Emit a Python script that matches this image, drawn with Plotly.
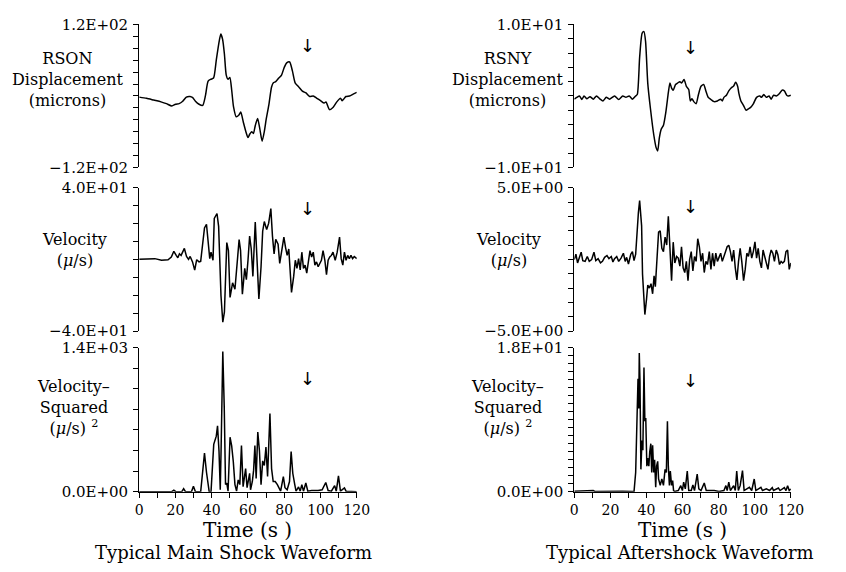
import plotly.graph_objects as go

# ---------------- data ----------------
# Main shock, displacement (microns)
ms_disp_t = [0, 4, 8, 12, 15, 18, 20, 22, 24, 26, 28, 29.5, 31, 33, 35, 36.5, 38, 39.5, 41, 42.5,
             44, 45, 46, 47, 48, 49, 50, 51, 52, 53.5, 55, 56, 57.5, 59, 60, 61, 62, 63, 64, 65.3,
             66.5, 67.8, 69, 70, 71.5, 73, 74, 75.3, 77, 78.5, 80, 81.5, 83, 84.5, 86, 88, 90, 92,
             94, 96, 98, 100, 102, 103, 105, 107, 109, 111, 112, 114, 116, 118, 120]
ms_disp_v = [-2, -4, -7, -10, -13, -17, -14, -13, -9, -2, -1, -3, -9, -14, -16, 0, 25, 28, 30, 60,
             90, 104, 95, 70, 35, 28, 31, 10, -18, -35, -32, -27, -45, -62, -70, -64, -60, -63, -50, -38,
             -55, -76, -60, -40, -15, 15, 22, 24, 30, 35, 48, 56, 57, 42, 22, 15, 8, 5,
             -1, 0, -4, -8, -12, -10, -23, -19, -10, -4, -8, -1, 0, 3, 6]

# Main shock, velocity (micron/s)
ms_vel_t = [0, 5.0, 8.6, 12.3, 15.9, 17.7, 19.1, 20.4, 21.3, 22.2, 23.1, 24.9, 26.1, 27.2, 28.1, 29.4,
            30.6, 31.7, 33.0, 33.9, 34.8, 36.0, 37.1, 37.8, 38.9, 39.6, 40.7, 41.4, 42.9, 43.8, 45.1,
            46.1, 47.0, 48.3, 49.2, 50.1, 51.5, 52.8, 54.1, 55.1, 55.9, 56.9, 58.2, 59.1, 60.0, 60.9,
            61.8, 62.7, 64.0, 64.9, 66.0, 67.2, 68.1, 69.0, 70.3, 71.4, 72.6, 73.5, 74.4, 75.3, 76.6,
            77.5, 78.6, 79.8, 80.7, 81.6, 82.5, 84.0, 85.2, 86.1, 87.0, 87.9, 88.8, 89.7, 90.6, 91.5,
            92.4, 93.3, 94.2, 95.1, 96.0, 96.9, 97.8, 98.7, 99.6, 100.5, 101.4, 102.4, 103.3, 104.2,
            105.1, 106.0, 106.9, 108.1, 109.2, 110.5, 111.4, 112.3, 113.2, 114.1, 115.0, 115.9, 116.8,
            117.7, 118.6, 120]
ms_vel_v = [0, 0, 0.4, -0.5, -0.2, 1.3, 4.5, 2.2, 0.9, 3.1, 2.2, 6.1, 1.6, 0, 1.6, -1.4,
            -6.0, -0.2, -1.4, -1.1, 6.7, 17.5, 19.6, 11.2, 0.4, 4.0, -0.5, 22.9, 25.6, 18.4, -20.3,
            -35.1, -29.3, 9.4, 4.9, -21.2, -13.1, -16.7, 0.4, 11.0, 4.9, -19.4, -5.0, -11.3, -0.5, 13.0,
            5.8, -9.5, 20.9, -0.5, -22.1, -4.1, 15.7, 21.1, 16.6, 20.2, 28.3, 13.0, 3.1, 11.2, 8.5,
            -2.3, 4.0, 12.4, 6.7, 2.2, 5.8, -18.5, -9.5, -0.5, -5.0, 0.4, -5.9, 4.0, -5.0, -3.2,
            -7.7, -0.5, 4.9, 1.3, 4.0, -3.2, -1.4, -4.1, -2.3, -0.5, 4.9, -0.5, -8.6, -0.5,
            1.3, 2.2, 4.0, -0.5, 4.0, 12.4, 0.4, -3.2, 4.0, -0.5, 2.2, 0.4, 2.2,
            0.4, 1.6, 0.4]

# Main shock, velocity squared
ms_sq_t = [0, 8.6, 17.7, 19.1, 20.4, 23.4, 24.5, 25.6, 28.8, 29.9, 31.0, 33.9, 35.0, 36.0, 37.1,
           38.6, 39.6, 41.1, 42.5, 43.2, 44.0, 44.7, 45.2, 46.1, 46.9, 47.6, 48.3, 49.0, 50.1, 51.0,
           51.9, 52.8, 53.7, 54.6, 55.5, 56.4, 57.3, 58.2, 58.7, 59.5, 60.0, 60.9, 61.4, 62.4, 63.1,
           63.8, 64.5, 65.4, 66.3, 67.2, 68.1, 69.0, 69.9, 70.8, 72.1, 73.0, 73.9, 75.0, 76.2, 78.0,
           79.5, 80.4, 81.6, 82.9, 83.8, 84.7, 85.8, 86.5, 87.9, 88.8, 89.7, 90.6, 91.9, 93.0, 95.1,
           98.7, 100.9, 102.9, 104.2, 106.0, 107.8, 108.7, 109.9, 111.0, 113.2, 114.1, 120]
ms_sq_v = [0, 0, 0, 15, 0, 0, 30, 0, 0, 53, 0, 0, 190, 375, 190,
           0, 0, 460, 540, 640, 400, 20, 445, 1360, 820, 70, 85, 6, 530, 445,
           290, 70, 6, 115, 70, 450, 50, 145, 225, 40, 100, 180, 20, 100, 210,
           450, 130, 580, 400, 70, 300, 255, 435, 150, 760, 225, 100, 100, 70, 6,
           147, 40, 20, 100, 390, 180, 70, 6, 47, 6, 70, 6, 85, 6, 12,
           12, 20, 90, 12, 6, 60, 6, 155, 6, 37, 6, 0]

# Aftershock, displacement (microns)
as_disp_t = [0, 1.4, 2.9, 4.2, 5.4, 6.9, 8.7, 10.5, 12.3, 14.1, 15.9, 17.7, 19.5, 22.3, 24.6, 26.8,
             28.6, 30.4, 32.2, 34.0, 34.9, 36.2, 37.6, 38.6, 39.5, 40.7, 42.2, 44.0, 45.3, 46.2, 47.1,
             48.1, 49.4, 50.7, 52.1, 53.0, 53.9, 54.8, 56.1, 57.2, 58.5, 59.4, 60.8, 62.1, 63.4, 64.3,
             65.2, 66.2, 67.5, 68.8, 70.2, 71.7, 72.9, 74.2, 75.7, 77.5, 79.3, 81.1, 82.0, 82.9, 84.3,
             85.6, 86.9, 88.3, 89.4, 90.5, 91.2, 92.3, 93.8, 95.2, 96.5, 97.7, 99.2, 101.0, 102.8,
             103.7, 105.0, 106.4, 107.9, 109.1, 110.4, 111.9, 113.7, 115.1, 116.4, 117.7, 118.7, 120]
as_disp_v = [-0.45, -0.2, 0, -0.5, 0, -0.4, -0.1, -0.45, 0, -0.4, -0.7, -0.2, -0.45, 0, -0.5, 0,
             -0.2, 0, -0.45, 0, 0.2, 5.4, 8.8, 9.0, 7.6, 1.8, -1.8, -5.4, -7.2, -7.7, -5.9,
             -4.7, -4.1, -2.3, 0.45, 1.8, 1.1, 0.8, 1.6, 1.8, 2.0, 1.8, 2.3, 1.35, 0.9, -0.7,
             -0.4, -0.8, -1.1, 0.2, 1.35, 1.6, 0.7, -0.2, -0.5, -0.8, -0.7, -0.45, -0.7, -0.2, 0.1,
             0.7, 1.1, 1.4, 1.9, 1.35, 0.35, -0.7, -1.35, -2.0, -1.8, -1.6, -1.1, -0.2, 0,
             -0.2, 0.2, -0.2, 0, -0.45, 0.1, 0, 0.35, 0.8, 0.7, 0.1, 0, 0.1]

# Aftershock, velocity (micron/s)
as_vel_t = [0, 0.9, 1.8, 2.9, 3.8, 4.7, 6.0, 7.2, 8.3, 9.6, 10.9, 11.9, 13.2, 14.5, 15.6, 16.8,
            18.1, 19.2, 20.5, 21.4, 22.3, 23.5, 24.6, 25.9, 27.2, 28.2, 29.0, 30.0, 31.3, 32.2, 33.1,
            34.0, 34.8, 35.5, 36.2, 36.7, 37.3, 37.8, 38.4, 39.1, 40.0, 40.7, 41.6, 42.5, 43.4, 44.2,
            44.9, 45.8, 46.7, 47.6, 48.5, 49.4, 50.3, 51.2, 52.1, 53.0, 53.9, 54.8, 55.7, 56.7, 57.6,
            58.5, 59.4, 60.3, 61.2, 62.1, 63.0, 63.9, 64.8, 65.7, 66.6, 67.5, 68.4, 69.3, 70.2, 71.1,
            72.0, 72.9, 73.8, 74.8, 75.7, 76.6, 77.5, 78.4, 79.3, 80.2, 81.1, 82.0, 82.9, 83.8, 84.7,
            85.6, 86.5, 87.4, 88.3, 89.2, 90.1, 91.0, 91.9, 92.8, 93.8, 94.7, 95.6, 96.5, 97.4, 98.3,
            99.2, 100.1, 101.0, 101.9, 102.8, 103.7, 104.6, 105.5, 106.4, 107.3, 108.2, 109.1, 110.0,
            110.9, 111.9, 112.8, 113.7, 114.6, 115.5, 116.4, 117.3, 118.2, 119.1, 120]
as_vel_v = [-0.02, 0.36, -0.25, 0.2, 0.5, -0.09, -0.14, 0.2, -0.14, -0.02, 0.5, -0.09, 0.05, -0.25, -0.14, 0.14,
            0.27, 0.05, 0.2, -0.18, 0.05, 0.2, -0.14, 0.09, 0.43, -0.14, 0.14, -0.32, 0.36, 0.54, -0.09,
            0.36, 2.34, 3.24, 4.1, 3.0, 2.34, -1.03, -2.16, -3.85, -2.8, -1.8, -2.0, -1.7, -2.4, -1.15,
            -1.9, 0.09, 1.9, 2.0, 0.77, 0.54, 1.55, 1.0, 3.0, 0.77, -1.49, 1.2, -0.25, 0.2, 0.09,
            -0.47, 0.88, -0.59, -0.92, -0.14, -1.49, -0.02, 0.54, -0.81, 0.2, -0.14, 1.44, 0.88, -0.14, 0.43,
            -0.92, -0.14, -0.36, 0.54, -0.7, 0.43, -0.47, 0.43, -0.14, 0.14, 0.43, -0.14, 0.2, 0.43, 0.88,
            0.99, 0.54, -0.14, 0.65, -0.59, -1.44, -0.14, 0.77, -0.14, -1.49, -0.7, 0.43, 0.2, 0.88, 0.09,
            0.54, 1.22, 0.09, 0.77, -0.14, -0.59, 0.65, 0.2, -0.36, -0.7, 0.2, 0.65, 0.43,
            -0.14, 0.65, 0.32, -0.36, -0.14, -0.25, -0.14, 0.54, 0.65, -0.7, -0.25]

# Aftershock, velocity squared
as_sq_t = [0, 3.3, 6.9, 10.5, 11.4, 15.9, 21.4, 26.8, 32.2, 33.1, 34.0, 34.8, 35.3, 35.7, 36.0,
           36.4, 36.9, 37.5, 38.0, 38.6, 39.1, 39.6, 40.2, 40.7, 41.3, 41.8, 42.4, 42.9, 43.4, 44.0,
           44.5, 45.1, 45.6, 46.2, 46.7, 47.6, 48.5, 49.4, 50.3, 51.0, 51.6, 52.1, 52.7, 53.2, 53.9,
           54.5, 55.0, 55.7, 57.6, 59.0, 59.9, 60.6, 61.5, 62.6, 63.4, 64.8, 65.7, 66.6, 68.1, 69.0,
           70.2, 72.0, 73.1, 77.5, 80.2, 82.9, 84.0, 84.7, 85.6, 86.5, 88.3, 89.2, 90.0, 90.9, 91.9,
           93.2, 94.1, 97.0, 98.3, 99.7, 100.6, 103.4, 104.3, 106.4, 108.2, 109.7, 110.4, 113.1, 114.0,
           116.4, 117.3, 118.2, 119.1, 120]
as_sq_v = [0.08, 0.1, 0.05, 0.16, 0.05, 0.08, 0.05, 0.08, 0.05, 0.04, 2.4, 8.0, 14.1, 10.4, 17.3,
           13.7, 2.8, 6.4, 5.2, 15.5, 8.8, 9.2, 3.2, 4.2, 3.2, 5.0, 6.0, 2.4, 5.8, 2.4,
           4.0, 0.56, 3.2, 3.8, 1.6, 0.8, 1.6, 0.8, 2.8, 2.4, 8.8, 3.2, 0.8, 2.6, 0.8,
           1.4, 0.16, 0.04, 0.16, 0.77, 0.16, 1.2, 0.36, 2.6, 0.16, 0.16, 0.85, 0.16, 2.2, 0.36,
           0.16, 1.1, 0.16, 0.16, 0.04, 0.16, 0.77, 0.16, 1.2, 0.16, 0.77, 0.16, 2.6, 0.16, 0.77,
           2.65, 0.16, 0.56, 0.16, 1.6, 0.16, 0.56, 0.16, 0.36, 0.16, 0.52, 0.16, 0.48, 0.16,
           0.52, 0.16, 0.77, 0.16, 0.36]

time_label_ticks = [0, 20, 40, 60, 80, 100, 120]
time_minor_step = 10

# ---------------- layout ----------------
W, H = 846, 572
SERIF = "DejaVu Serif"

def px(x):
    return x / W

def py(y):
    return 1 - y / H

col_dom = [[px(138), px(360)], [px(582), px(803)]]
row_dom = [[py(163.5), py(16)], [py(332.5), py(184.5)], [py(498.5), py(349.5)]]

panels = [
    dict(t=ms_disp_t, v=ms_disp_v, col=0, row=0, lo=-120, hi=120, dt=20,
         lab=("\u22121.2E+02", "1.2E+02"), arrow=(93, 84), smooth=True),
    dict(t=ms_vel_t, v=ms_vel_v, col=0, row=1, lo=-40, hi=40, dt=10,
         lab=("\u22124.0E+01", "4.0E+01"), arrow=(93, 28.6), smooth=False),
    dict(t=ms_sq_t, v=ms_sq_v, col=0, row=2, lo=0, hi=1400, dt=200,
         lab=("0.0E+00", "1.4E+03"), arrow=(93, 1100), smooth=False),
    dict(t=as_disp_t, v=as_disp_v, col=1, row=0, lo=-10, hi=10, dt=2,
         lab=("\u22121.0E+01", "1.0E+01"), arrow=(64.6, 6.8), smooth=True),
    dict(t=as_vel_t, v=as_vel_v, col=1, row=1, lo=-5, hi=5, dt=1,
         lab=("\u22125.0E+00", "5.0E+00"), arrow=(64.6, 3.7), smooth=False),
    dict(t=as_sq_t, v=as_sq_v, col=1, row=2, lo=0, hi=18, dt=1,
         lab=("0.0E+00", "1.8E+01"), arrow=(64.6, 13.9), smooth=False),
]

fig = go.Figure()
annotations = []
layout = dict(
    width=W, height=H, margin=dict(l=0, r=0, t=0, b=0),
    paper_bgcolor="white", plot_bgcolor="white", showlegend=False,
    font=dict(family=SERIF, color="black", size=13),
)

tick_style = dict(ticklen=5, tickcolor="black", tickwidth=1.2)

for i, p in enumerate(panels):
    n = i + 1
    xa = "x" if n == 1 else f"x{n}"
    ya = "y" if n == 1 else f"y{n}"
    xkey = "xaxis" if n == 1 else f"xaxis{n}"
    ykey = "yaxis" if n == 1 else f"yaxis{n}"
    line = dict(color="black", width=1.5)
    if p["smooth"]:
        line.update(shape="spline", smoothing=0.6)
    fig.add_trace(go.Scatter(x=p["t"], y=p["v"], mode="lines", line=line,
                             xaxis=xa, yaxis=ya, hoverinfo="skip"))
    bottom = p["row"] == 2
    if bottom:
        layout[xkey] = dict(
            domain=col_dom[p["col"]], anchor=ya, range=[0, 120],
            showgrid=False, zeroline=False,
            showline=True, linecolor="black", linewidth=1.2,
            ticks="outside", **tick_style,
            tickmode="array", tickvals=time_label_ticks,
            ticktext=[str(v) for v in time_label_ticks],
            tickfont=dict(family=SERIF, size=14, color="black"),
            minor=dict(ticks="outside", dtick=time_minor_step, tick0=0,
                       showgrid=False, **tick_style),
        )
    else:
        layout[xkey] = dict(
            domain=col_dom[p["col"]], anchor=ya, range=[0, 120],
            showgrid=False, zeroline=False, showline=False, ticks="",
            showticklabels=False,
        )
    layout[ykey] = dict(
        domain=row_dom[p["row"]], anchor=xa, range=[p["lo"], p["hi"]],
        showgrid=False, zeroline=False, showline=True, linecolor="black", linewidth=1.2,
        ticks="outside", **tick_style,
        tickmode="array", tickvals=[p["lo"], p["hi"]], ticktext=list(p["lab"]),
        ticklabelstandoff=2,
        tickfont=dict(family=SERIF, size=15, color="black"),
        minor=dict(ticks="outside", dtick=p["dt"], tick0=p["lo"], showgrid=False, **tick_style),
    )
    annotations.append(dict(x=p["arrow"][0], y=p["arrow"][1], xref=xa, yref=ya,
                            text="\u2193", showarrow=False, xanchor="center", yanchor="middle",
                            font=dict(family="DejaVu Sans", size=18, color="black")))

def txt(x, y, s, size=16):
    annotations.append(dict(x=px(x), y=py(y), xref="paper", yref="paper", text=s,
                            showarrow=False, xanchor="center", yanchor="middle", borderpad=0,
                            font=dict(family=SERIF, size=size, color="black")))

MU = '<span style="font-style:italic;font-size:16px">\u03bc</span>'
SQ = '<span style="font-size:16px"><sup>2</sup></span>'

# y-axis titles (one block each)
txt(65, 73, "RSON<br>Displacement<br>(microns)", 16)
txt(514, 73, "RSNY<br>Displacement<br>(microns)", 16)
txt(72, 249, f"Velocity<br>({MU}/s)", 16)
txt(515, 249, f"Velocity<br>({MU}/s)", 16)
txt(71, 411, f"Velocity\u2013<br>Squared<br>({MU}/s) {SQ}", 16)
txt(514, 411, f"Velocity\u2013<br>Squared<br>({MU}/s) {SQ}", 16)

# x titles and captions
txt(249, 538, "Time (s )", 20)
txt(692, 538, "Time (s )", 20)
txt(234, 561, "Typical Main Shock Waveform", 18)
txt(690, 561, "Typical Aftershock Waveform", 18)

layout["annotations"] = annotations
fig.update_layout(**layout)
fig.write_html("out.html")
